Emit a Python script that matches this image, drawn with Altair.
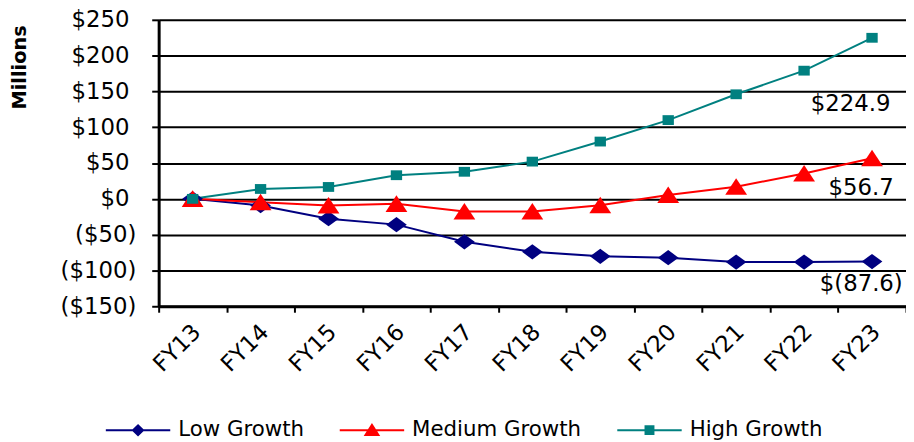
import altair as alt
import pandas as pd

years = ["FY13", "FY14", "FY15", "FY16", "FY17", "FY18", "FY19", "FY20", "FY21", "FY22", "FY23"]
low = [0, -9.3, -27.7, -36, -60, -74, -80.3, -82.2, -88.2, -88.2, -87.6]
medium = [0, -4.7, -9.3, -7, -17.6, -17.6, -8.8, 5.5, 17, 35.4, 56.7]
high = [0, 13.8, 16.6, 33, 37.8, 52, 80, 110, 146, 179, 224.9]
series = ["Low Growth", "Medium Growth", "High Growth"]
colors = ["#000080", "#FF0000", "#008080"]
end_labels = ["$(87.6)", "$56.7", "$224.9"]
y_ticks = [-150, -100, -50, 0, 50, 100, 150, 200, 250]

rows = []
for name, vals in zip(series, [low, medium, high]):
    for yr, v in zip(years, vals):
        rows.append({"year": yr, "value": v, "series": name})
df = pd.DataFrame(rows)

FONT = "DejaVu Sans"

# plotted markers
point_paths = [
    "M-0.95,0L0,-0.7L0.95,0L0,0.7Z",
    "M0,-0.78L1,0.74L-1,0.74Z",
    "M-0.52,-0.45L0.52,-0.45L0.52,0.45L-0.52,0.45Z",
]
# legend symbols (fill only): a thin bar with the marker in its middle
legend_paths = [
    "M-1,-0.031H1V0.031H-1ZM-0.2,0L0,-0.195L0.2,0L0,0.195Z",
    "M-1,-0.031H1V0.031H-1ZM0,-0.22L0.257,0.18L-0.257,0.18Z",
    "M-1,-0.031H1V0.031H-1ZM-0.154,-0.154H0.154V0.154H-0.154Z",
]

x_enc = alt.X(
    "year:N",
    sort=years,
    scale=alt.Scale(type="band", domain=years, paddingInner=0, paddingOuter=0),
    axis=alt.Axis(
        title=None,
        labelAngle=315,
        labelAlign="right",
        labelBaseline="middle",
        labelFont=FONT,
        labelFontSize=23,
        labelColor="black",
        labelPadding=16,
        labelOffset=4,
        labelOverlap=False,
        tickBand="extent",
        ticks=True,
        tickSize=6,
        tickColor="black",
        tickWidth=2,
        domainColor="black",
        domainWidth=3,
        grid=False,
    ),
)

label_expr = "datum.value < 0 ? '($' + abs(datum.value) + ')' : '$' + datum.value"


def y_enc(pad):
    return alt.Y(
        "value:Q",
        scale=alt.Scale(domain=[-150, 250], nice=False, zero=False),
        axis=alt.Axis(
            values=y_ticks,
            tickCount=len(y_ticks) + 2,
            labelExpr=label_expr,
            labelFont=FONT,
            labelFontSize=23,
            labelColor="black",
            labelPadding=pad,
            labelOverlap=False,
            labelFlush=False,
            title="Millions",
            titleFont=FONT,
            titleFontSize=19.5,
            titleFontWeight="bold",
            titleColor="black",
            titleAngle=270,
            titleAlign="center",
            titleBaseline="middle",
            titleX=-140,
            titleY=47.5,
            grid=True,
            gridColor="black",
            gridWidth=2,
            gridOpacity=1,
            domainColor="black",
            domainWidth=3,
            tickColor="black",
            tickWidth=2,
            tickSize=7,
        ),
    )


def end_label(i, dx, dy):
    d = pd.DataFrame({"year": [years[-1]], "value": [[low, medium, high][i][-1]], "label": [end_labels[i]]})
    return alt.Chart(d).mark_text(
        align="right", baseline="middle", dx=dx, dy=dy, font=FONT, fontSize=23, color="black"
    ).encode(x=alt.X("year:N", sort=years), y="value:Q", text="label:N")


def build(pad):
    base = alt.Chart(df).encode(x=x_enc, y=y_enc(pad))
    lines = base.mark_line(strokeWidth=2).encode(
        color=alt.Color(
            "series:N",
            scale=alt.Scale(domain=series, range=colors),
            legend=alt.Legend(
                title=None,
                orient="none",
                legendX=-53.3,
                legendY=381.5,
                direction="horizontal",
                padding=0,
                symbolSize=4225,
                symbolStrokeWidth=0,
                symbolOpacity=1,
                symbolOffset=0,
                labelOffset=8,
                labelFont=FONT,
                labelFontSize=21.5,
                labelColor="black",
                labelLimit=400,
                columnPadding=36,
            ),
        ),
    )
    point_layers = [
        base.transform_filter(alt.datum.series == s).mark_point(
            shape=point_paths[i], filled=True, color=colors[i], opacity=1, strokeWidth=0, size=484
        )
        for i, s in enumerate(series)
    ]
    # layer without any drawn rows: only lends its shape scale to the legend symbols
    legend_shapes = base.transform_filter(alt.datum.value > 100000).mark_point(filled=True).encode(
        color=alt.Color("series:N", scale=alt.Scale(domain=series, range=colors), legend=None),
        shape=alt.Shape("series:N", scale=alt.Scale(domain=series, range=legend_paths), legend=None),
    )
    c = (
        alt.layer(lines, legend_shapes, *point_layers,
                  end_label(0, 31, 23), end_label(1, 22, 30), end_label(2, 18.6, 66.4))
        .properties(
            width=754,
            height=289,
            autosize=alt.AutoSizeParams(type="none"),
            padding={"left": 152, "top": 10, "right": 0, "bottom": 133},
            background="white",
        )
        .configure_view(strokeWidth=0)
    )
    c.to_dict()
    return c


chart = None
for pad in [{"condition": {"test": "datum.value >= 0", "value": 23}, "value": 16}, 16]:
    try:
        chart = build(pad)
        break
    except Exception:
        pass

chart.save("out.html", embed_options={"renderer": "svg", "actions": False})
